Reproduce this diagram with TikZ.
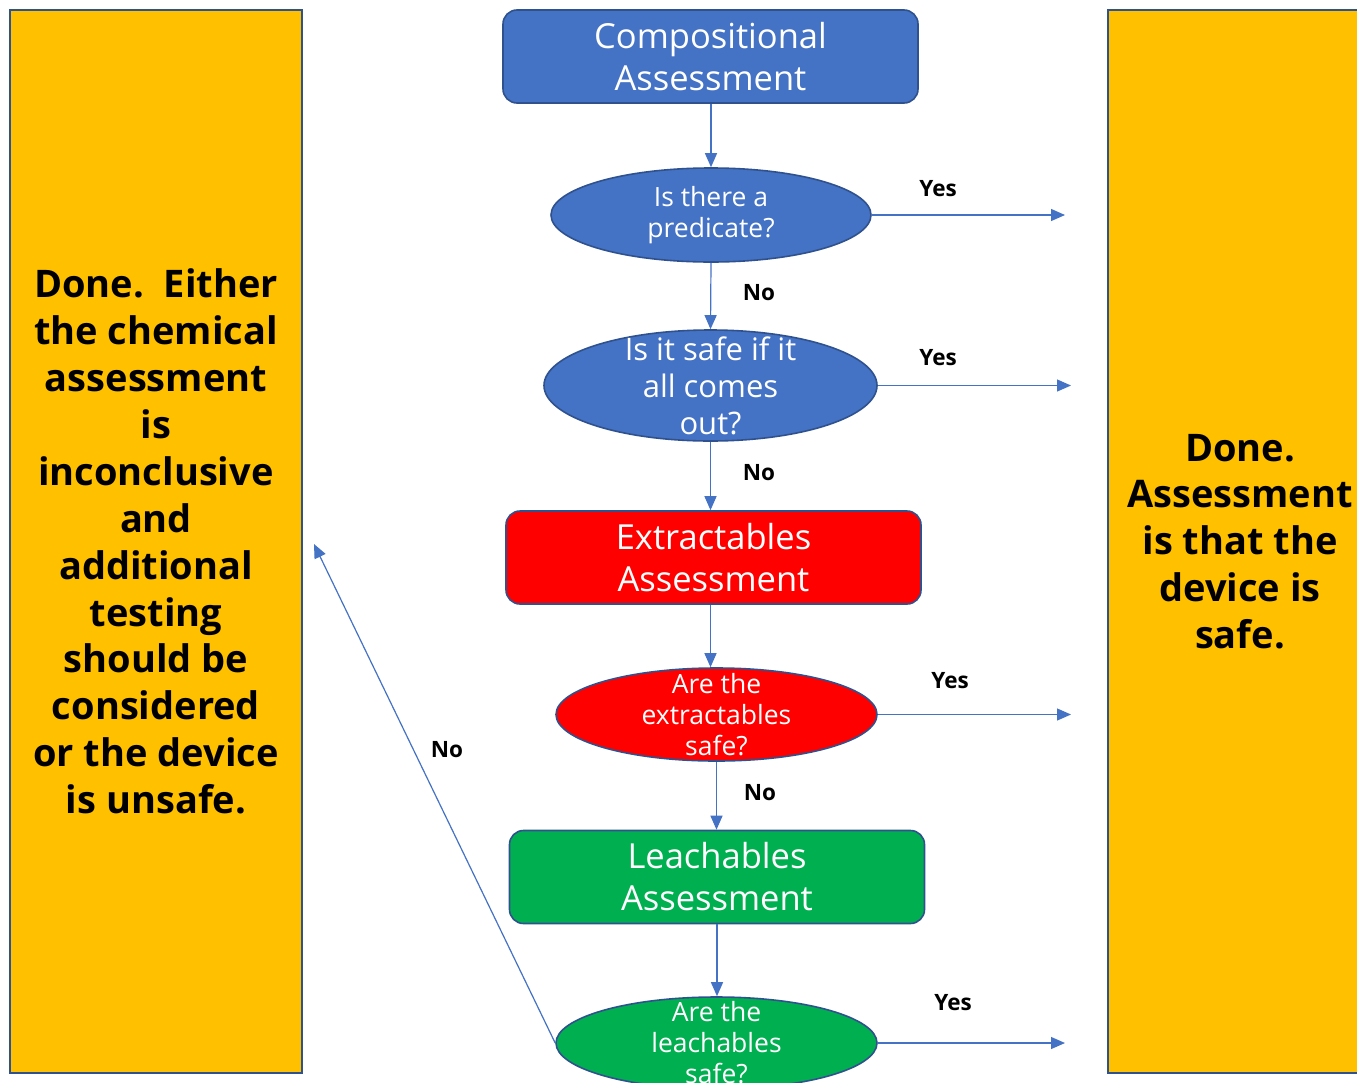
\documentclass[tikz,border=0pt]{standalone}
\usepackage{fontspec}
\setmainfont{Open Sans}
\usetikzlibrary{shapes.geometric,arrows.meta}
\definecolor{accentblue}{HTML}{4472C4}
\definecolor{edgeblue}{HTML}{2F528F}
\definecolor{gold}{HTML}{FFC000}
\definecolor{leafgreen}{HTML}{00B050}
\tikzset{
  stage/.style={draw=edgeblue, line width=1.6pt, rounded corners=14pt,
    minimum width=415pt, minimum height=93pt, inner sep=0pt, align=center,
    text=white, font=\fontsize{34.5}{42}\selectfont},
  question/.style={ellipse, draw=edgeblue, line width=1.6pt, inner sep=0pt},
  qtext/.style={align=center, text=white, inner sep=0pt,
    font=\fontsize{26.5}{31}\selectfont},
  outcome/.style={draw=edgeblue, line width=1.6pt, fill=gold, inner sep=0pt,
    align=center, font=\bfseries\fontsize{38}{46.9}\selectfont},
  flow/.style={draw=accentblue, line width=1.2pt,
    -{Triangle[length=14pt,width=12pt]}},
  answer/.style={font=\bfseries\fontsize{22.5}{26}\selectfont}
}
\begin{document}
\begin{tikzpicture}[x=1pt,y=-1pt]
\useasboundingbox (0,0) rectangle (1357,1082);
\fill[white] (0,0) rectangle (1357,1082);

% outcome panels
\node[outcome, minimum width=292pt, minimum height=1063pt] (fail) at (156,541.5)
  {Done.\ \ Either\\the chemical\\assessment\\is\\inconclusive\\and\\additional\\testing\\should be\\considered\\or the device\\is unsafe.};
\node[outcome, minimum width=264pt, minimum height=1063pt] (pass) at (1240,541.5)
  {Done.\\Assessment\\is that the\\device is\\safe.};

% assessment stages
\node[stage, fill=accentblue] (comp) at (710.5,56.5) {Compositional\\Assessment};
\node[stage, fill=red] (extr) at (713.5,557.5) {Extractables\\Assessment};
\node[stage, fill=leafgreen] (leach) at (717,877) {Leachables\\Assessment};

% decisions (the wording may run past the outline, so it is set as a label)
\node[question, fill=accentblue, minimum width=320pt, minimum height=94pt,
  label={[qtext]center:Is there a\\predicate?}] (q1) at (711,215) {};
\node[question, fill=accentblue, minimum width=333pt, minimum height=111pt,
  label={[qtext, font=\fontsize{31}{37}\selectfont]center:Is it safe if it\\all comes\\out?}] (q2) at (710.5,385.5) {};
\node[question, fill=red, minimum width=321pt, minimum height=93pt,
  label={[qtext]center:Are the\\extractables\\safe?}] (q3) at (716.5,714.5) {};
\node[question, fill=leafgreen, minimum width=321pt, minimum height=92pt,
  label={[qtext]center:Are the\\leachables\\safe?}] (q4) at (716.5,1043) {};

% free ends of the Yes / No arrows
\coordinate (y1) at (1065,215);
\coordinate (y2) at (1071,385.5);
\coordinate (y3) at (1071,714.5);
\coordinate (y4) at (1065,1043);
\coordinate (back) at (314,544);

% main flow
\draw[flow] (comp.south -| q1.north) -- (q1.north);
\draw[flow] (q1.south) -- (q2.north);
\draw[flow] (q2.south) -- (q2.south |- extr.north);
\draw[flow] (extr.south -| q2.south) -- (q2.south |- q3.north);
\draw[flow] (q3.south) -- (q3.south |- leach.north);
\draw[flow] (leach.south) -- (leach.south |- q4.north);

% Yes branches and the final No
\draw[flow] (q1.east) -- (y1);
\draw[flow] (q2.east) -- (y2);
\draw[flow] (q3.east) -- (y3);
\draw[flow] (q4.east) -- (y4);
\draw[flow] (q4.west) -- (back);

% answer labels
\node[answer] (a1) at (938,189) {Yes};
\node[answer] (a2) at (938,358) {Yes};
\node[answer] (a3) at (950,681) {Yes};
\node[answer] (a4) at (953,1003) {Yes};
\node[answer] (n1) at (759,293) {No};
\node[answer] (n2) at (759,473) {No};
\node[answer] (n3) at (760,793) {No};
\node[answer] (n4) at (447,750) {No};
\end{tikzpicture}
\end{document}
